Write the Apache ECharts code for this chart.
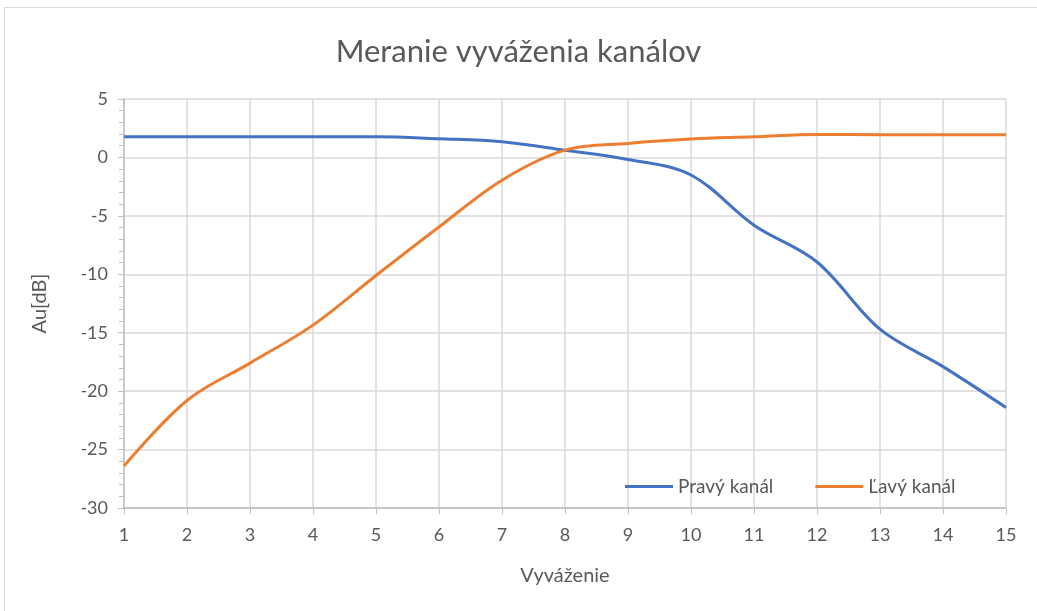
<!DOCTYPE html>
<html lang="sk">
<head>
    <meta charset="UTF-8">
    <title>Meranie vyváženia kanálov</title>
    <script src="https://cdn.jsdelivr.net/npm/echarts@6/dist/echarts.min.js"></script>
    <style>
        html, body { margin: 0; padding: 0; background: #fff; }
        #frame {
            position: absolute; left: 4px; top: 7px;
            width: 1040px; height: 610px;
            border: 1px solid #d9d9d9;
            box-sizing: border-box;
        }
        #chart {
            position: absolute; left: 0; top: 0;
            width: 1037px; height: 611px;
        }
    </style>
</head>
<body>
    <div id="frame"></div>
    <div id="chart"></div>

    <script>
        // x values (vyváženie)
        var balance = [1, 2, 3, 4, 5, 6, 7, 8, 9, 10, 11, 12, 13, 14, 15];
        // measured gain in dB
        var rightChannel = [1.76, 1.76, 1.76, 1.76, 1.76, 1.6, 1.35, 0.62, -0.17, -1.5, -5.8, -8.95, -14.7, -17.9, -21.4];
        var leftChannel = [-26.4, -20.8, -17.6, -14.35, -10.1, -5.95, -1.95, 0.62, 1.2, 1.57, 1.76, 1.97, 1.95, 1.95, 1.95];

        var seriesNames = ['Pravý kanál', 'Ľavý kanál'];
        var colors = ['#4472C4', '#ED7D31'];

        var font = 'Lato, "Open Sans", sans-serif';
        var txt = '#595959';

        function pairs(ys) {
            return balance.map(function (x, i) { return [x, ys[i]]; });
        }

        var myChart = echarts.init(document.getElementById('chart'));

        var option = {
            animation: false,
            textStyle: { fontFamily: font },
            title: {
                text: 'Meranie vyváženia kanálov',
                left: 'center',
                top: 31,
                textStyle: { fontFamily: font, fontSize: 31, fontWeight: 'normal', color: txt }
            },
            legend: {
                data: seriesNames,
                left: 620,
                top: 472,
                icon: 'rect',
                itemWidth: 48,
                itemHeight: 3,
                itemGap: 42,
                textStyle: { fontFamily: font, fontSize: 19, color: txt }
            },
            grid: { left: 124, right: 31, top: 99, bottom: 103 },
            xAxis: {
                type: 'value',
                min: 1,
                max: 15,
                interval: 1,
                name: 'Vyváženie',
                nameLocation: 'middle',
                nameGap: 58,
                nameTextStyle: { fontSize: 20, color: txt },
                axisLine: { onZero: false, lineStyle: { color: '#BFBFBF', width: 1.5 } },
                axisTick: { show: true, length: 6, lineStyle: { color: '#BFBFBF' } },
                axisLabel: { fontSize: 18, color: txt, margin: 18 },
                splitLine: { show: true, lineStyle: { color: '#D9D9D9', width: 1.5 } }
            },
            yAxis: {
                type: 'value',
                min: -30,
                max: 5,
                interval: 5,
                name: 'Au[dB]',
                nameLocation: 'middle',
                nameGap: 74,
                nameTextStyle: { fontSize: 20, color: txt },
                axisLine: { show: true, onZero: false, lineStyle: { color: '#BFBFBF', width: 1.5 } },
                axisTick: { show: true, length: 6, lineStyle: { color: '#BFBFBF' } },
                minorTick: { show: true, splitNumber: 5, length: 5, lineStyle: { color: '#BFBFBF' } },
                axisLabel: { fontSize: 18, color: txt, margin: 16 },
                splitLine: { show: true, lineStyle: { color: '#D9D9D9', width: 1.5 } }
            },
            series: [
                {
                    name: seriesNames[0],
                    type: 'line',
                    data: pairs(rightChannel),
                    smooth: 0.35,
                    showSymbol: false,
                    lineStyle: { color: colors[0], width: 3 },
                    itemStyle: { color: colors[0] }
                },
                {
                    name: seriesNames[1],
                    type: 'line',
                    data: pairs(leftChannel),
                    smooth: 0.35,
                    showSymbol: false,
                    lineStyle: { color: colors[1], width: 3 },
                    itemStyle: { color: colors[1] }
                }
            ]
        };

        myChart.setOption(option);
    </script>
</body>
</html>
